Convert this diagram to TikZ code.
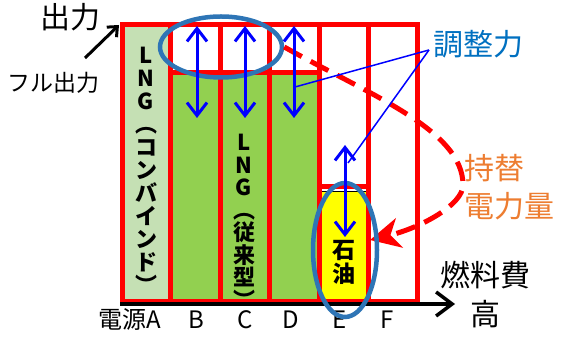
\documentclass[tikz,border=0pt]{standalone}
\usepackage{fontspec}
\setmainfont{Noto Sans CJK JP}
\usetikzlibrary{arrows.meta,shapes.geometric}
\definecolor{lng}{RGB}{197,224,180}
\definecolor{grn}{RGB}{146,208,80}
\definecolor{ylw}{RGB}{255,255,0}
\definecolor{ebl}{RGB}{46,117,182}
\definecolor{tbl}{RGB}{0,112,192}
\definecolor{org}{RGB}{237,125,49}
\definecolor{rd}{RGB}{255,0,0}
\begin{document}
\begin{tikzpicture}[x=1pt,y=-1pt,
  frame/.style={draw=rd,line width=5pt,line join=miter},
  adj/.style={blue,line width=3pt,{Straight Barb[length=13pt,width=20pt]}-{Straight Barb[length=13pt,width=20pt]}},
  axisarrow/.style={black,line width=3.5pt,-{Straight Barb[length=16pt,width=24pt]}},
  callout/.style={blue,line width=1.5pt},
  oval/.style={draw=ebl,line width=4.5pt,ellipse,inner sep=0pt},
  big/.style={font=\fontsize{30}{34}\selectfont,inner sep=0pt},
  lab/.style={font=\fontsize{24}{28}\selectfont,inner sep=0pt,anchor=base},
  coltext/.style={font=\bfseries\fontsize{22}{23}\selectfont,align=center,inner sep=0pt,anchor=north},
  swapline/.style={rd,line width=5pt,dash pattern=on 20pt off 10pt,-{Stealth[length=30pt,width=30pt,inset=9pt]}}
]
\useasboundingbox (0,0) rectangle (568,347);

% fills
\fill[lng] (122.5,24.5) rectangle (170.5,301.5);
\fill[grn] (170.5,73) rectangle (319.5,301.5);
\filldraw[fill=ylw,draw=black,line width=1pt] (319.5,191.5) rectangle (368.5,301.5);

% column texts (clipped to the chart area)
\begin{scope}
\clip (122.5,24.5) rectangle (417.5,301.5);
\node[coltext] (tA) at (146,47) {L\\N\\G\\︵\\コ\\ン\\バ\\イ\\ン\\ド\\︶};
\node[coltext,font=\bfseries\fontsize{22}{22.5}\selectfont] (tC) at (244,134) {L\\N\\G\\︵\\従\\来\\型\\︶};
\node[coltext,font=\bfseries\fontsize{23}{24}\selectfont] (tE) at (344,240) {石\\油};
\end{scope}

% frame
\draw[frame] (122.5,24.5) rectangle (417.5,301.5);
\foreach \x in {170.5,220,269.5,319.5,368.5}
  \draw[frame] (\x,24.5) -- (\x,301.5);
\draw[frame] (170.5,73) -- (319.5,73);
\draw[frame] (319.5,187) -- (368.5,187);

% axis
\coordinate (ax0) at (120,304);
\coordinate (ax1) at (455,304);
\draw[axisarrow] (ax0) -- (ax1);

% labels
\node[big] (out) at (70,17) {出力};
\node[font=\fontsize{23}{27}\selectfont,inner sep=0pt] (full) at (54,83) {フル出力};
\coordinate (fa0) at (85,58);
\coordinate (fa1) at (119,25);
\draw[black,line width=3pt,-{Straight Barb[length=8pt,width=14pt]}] (fa0) -- (fa1);

\node[lab,anchor=base east] (lA) at (161,329) {電源A};
\node[lab] (lB) at (196,329) {B};
\node[lab] (lC) at (245,329) {C};
\node[lab] (lD) at (291,329) {D};
\node[lab] (lE) at (340,329) {E};
\node[lab] (lF) at (387,329) {F};
\node[big] (fuel) at (485,275) {燃料費};
\node[big] (high) at (485,314) {高};
\node[big,text=tbl] (chousei) at (478,44) {調整力};
\node[big,text=org,anchor=west] (mochi) at (464,168) {持替};
\node[big,text=org,anchor=west] (denryoku) at (464,206) {電力量};

% adjustment arrows
\coordinate (bT) at (197,26); \coordinate (bB) at (197,118);
\coordinate (cT) at (245,26); \coordinate (cB) at (245,118);
\coordinate (dT) at (294,26); \coordinate (dB) at (294,118);
\coordinate (eT) at (345,145); \coordinate (eB) at (345,237);

% ovals
\node[oval,minimum width=122pt,minimum height=61pt] (ov1) at (221,47) {};
\coordinate (ov2c) at (345,250);

% swap arrow
\coordinate (sw1) at (370,240);
\draw[swapline] (ov1.east) .. controls (370,95) and (463,130) .. (463,185)
  .. controls (463,205) and (420,228) .. (sw1);
\node[oval,minimum width=64pt,minimum height=134pt] (ov2) at (ov2c) {};

\draw[adj] (bT) -- (bB);
\draw[adj] (cT) -- (cB);
\draw[adj] (dT) -- (dB);
\draw[adj] (eT) -- (eB);

% callouts
\coordinate (cs) at (429,50);
\coordinate (dp) at (295,87);
\coordinate (ep) at (348,163);
\draw[callout] (cs) -- (dp);
\draw[callout] (cs) -- (ep);
\end{tikzpicture}
\end{document}
